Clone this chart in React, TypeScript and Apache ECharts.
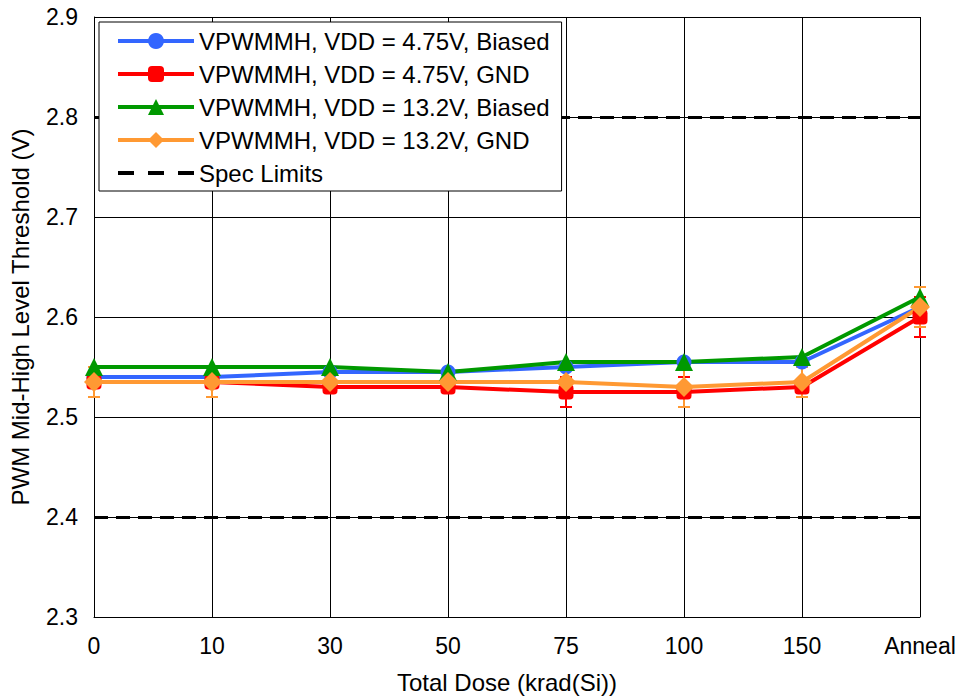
import React, { useEffect, useRef } from "react";
import * as echarts from "echarts";

const categories = ["0", "10", "30", "50", "75", "100", "150", "Anneal"];
const blueVals = [2.54, 2.54, 2.545, 2.545, 2.55, 2.555, 2.555, 2.61];
const redVals = [2.535, 2.535, 2.53, 2.53, 2.525, 2.525, 2.53, 2.6];
const greenVals = [2.55, 2.55, 2.55, 2.545, 2.555, 2.555, 2.56, 2.62];
const orangeVals = [2.535, 2.535, 2.535, 2.535, 2.535, 2.53, 2.535, 2.61];
const redErr = [0, 0, 0, 0, 0.015, 0.015, 0, 0.02];
const orangeErr = [0.015, 0.015, 0, 0, 0, 0.02, 0.015, 0.02];
const specLimits = [2.8, 2.4];
const seriesNames = [
  "VPWMMH, VDD = 4.75V, Biased",
  "VPWMMH, VDD = 4.75V, GND",
  "VPWMMH, VDD = 13.2V, Biased",
  "VPWMMH, VDD = 13.2V, GND",
];

const FONT = "'Liberation Sans', Arial, sans-serif";
const DASH_ICON = "path://M0 0h16v4h-16z M30 0h16v4h-16z M60 0h16v4h-16z";

export default function App() {
  const ref = useRef<HTMLDivElement>(null);
  useEffect(() => {
    if (!ref.current) return;
    const chart = echarts.init(ref.current, undefined, { renderer: "svg" });

    const errData = (vals: number[], errs: number[]) =>
      vals
        .map((v, i) => [i, v - errs[i], v + errs[i], errs[i]])
        .filter((d) => d[3] > 0);

    const errSeries = (vals: number[], errs: number[], color: string) => ({
      type: "custom",
      silent: true,
      z: 1,
      data: errData(vals, errs),
      renderItem: (params: any, api: any) => {
        const x = api.value(0);
        const lo = api.coord([x, api.value(1)]);
        const hi = api.coord([x, api.value(2)]);
        const cw = 6;
        const style = { stroke: color, lineWidth: 2 };
        return {
          type: "group",
          children: [
            { type: "line", shape: { x1: lo[0], y1: lo[1], x2: hi[0], y2: hi[1] }, style },
            { type: "line", shape: { x1: lo[0] - cw, y1: lo[1], x2: lo[0] + cw, y2: lo[1] }, style },
            { type: "line", shape: { x1: hi[0] - cw, y1: hi[1], x2: hi[0] + cw, y2: hi[1] }, style },
          ],
        };
      },
    });

    const lineSeries = (name: string, data: number[], color: string, symbol: string, size: number) => ({
      name,
      type: "line",
      data,
      symbol,
      symbolSize: size,
      lineStyle: { color, width: 4 },
      itemStyle: { color },
      z: 3,
    });

    chart.setOption({
      animation: false,
      textStyle: { fontFamily: FONT },
      grid: { left: 92, right: 40, top: 17, bottom: 79 },
      legend: {
        orient: "vertical",
        left: 99,
        top: 22,
        z: 50,
        backgroundColor: "#fff",
        borderColor: "#000",
        borderWidth: 1,
        padding: [7, 12, 6, 17],
        itemWidth: 76,
        itemHeight: 20,
        itemGap: 9,
        lineStyle: { width: 4 },
        textStyle: { fontSize: 24, color: "#000", fontFamily: FONT },
        data: [...seriesNames, { name: "Spec Limits", icon: DASH_ICON }],
      },
      xAxis: {
        type: "category",
        data: categories,
        boundaryGap: false,
        axisLine: { lineStyle: { color: "#000", width: 1 } },
        axisTick: { show: false },
        axisLabel: { fontSize: 23, color: "#000", margin: 17, fontFamily: FONT },
        splitLine: { show: true, lineStyle: { color: "#000", width: 1 } },
        name: "Total Dose (krad(Si))",
        nameLocation: "middle",
        nameGap: 53,
        nameTextStyle: { fontSize: 24, color: "#000", fontFamily: FONT },
      },
      yAxis: {
        type: "value",
        min: 2.3,
        max: 2.9,
        interval: 0.1,
        axisLine: { show: true, lineStyle: { color: "#000", width: 1 } },
        axisTick: { show: false },
        axisLabel: {
          fontSize: 23,
          color: "#000",
          margin: 16,
          fontFamily: FONT,
          formatter: (v: number) => v.toFixed(1),
        },
        splitLine: { show: true, lineStyle: { color: "#000", width: 1 } },
        name: "PWM Mid-High Level Threshold (V)",
        nameLocation: "middle",
        nameGap: 62,
        nameTextStyle: { fontSize: 24, color: "#000", fontFamily: FONT },
      },
      series: [
        {
          name: "Spec Limits",
          type: "line",
          data: [],
          symbol: "none",
          z: 2,
          lineStyle: { color: "#000", width: 3, type: [14, 8] },
          itemStyle: { color: "#000" },
          markLine: {
            silent: true,
            z: 2,
            symbol: ["none", "none"],
            label: { show: false },
            lineStyle: { color: "#000", width: 3, type: [14, 8] },
            data: specLimits.map((v) => ({ yAxis: v })),
          },
        },
        errSeries(redVals, redErr, "#ff0000"),
        errSeries(orangeVals, orangeErr, "#ff9933"),
        lineSeries(seriesNames[0], blueVals, "#3366ff", "circle", 15),
        lineSeries(seriesNames[1], redVals, "#ff0000", "roundRect", 15),
        lineSeries(seriesNames[2], greenVals, "#009900", "triangle", 18),
        lineSeries(seriesNames[3], orangeVals, "#ff9933", "diamond", 20),
      ],
    });
    return () => chart.dispose();
  }, []);
  return (
    <div
      ref={ref}
      style={{ position: "absolute", left: 0, top: 0, width: 960, height: 699 }}
    />
  );
}
